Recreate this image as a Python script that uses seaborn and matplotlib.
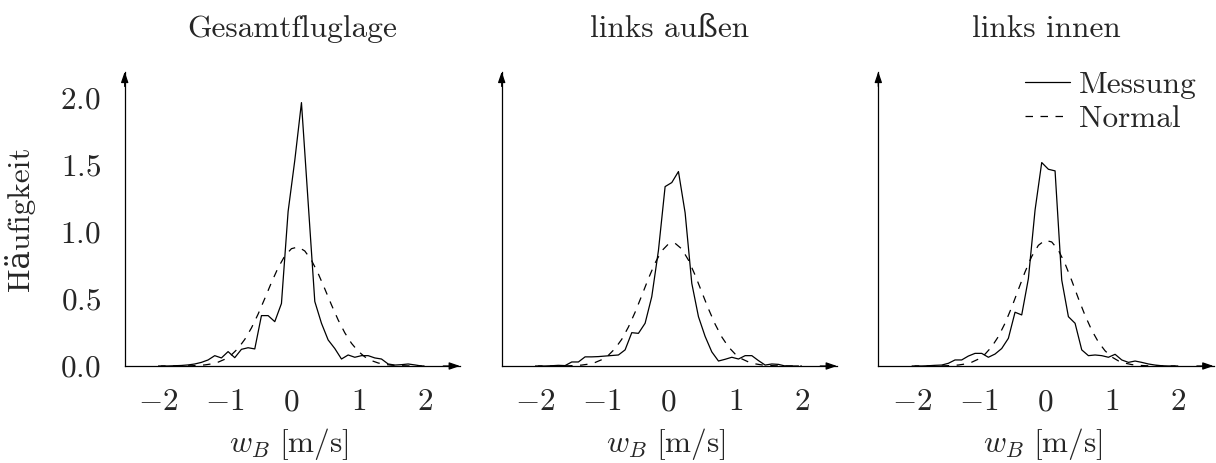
import numpy as np
import pandas as pd
import matplotlib
matplotlib.use("Agg")
import matplotlib.pyplot as plt
from matplotlib.ticker import FixedLocator, FuncFormatter
import seaborn as sns

# ---------------------------------------------------------------- data
titles = ["Gesamtfluglage", "links außen", "links innen"]

bin_centers = [-1.95, -1.85, -1.75, -1.65, -1.55, -1.45, -1.35, -1.25, -1.15, -1.05,
               -0.95, -0.85, -0.75, -0.65, -0.55, -0.45, -0.35, -0.25, -0.15, -0.05,
               0.05, 0.15, 0.25, 0.35, 0.45, 0.55, 0.65, 0.75, 0.85, 0.95,
               1.05, 1.15, 1.25, 1.35, 1.45, 1.55, 1.65, 1.75, 1.85, 1.95]

messung_gesamt = [0.0, 0.0, 0.002, 0.004, 0.008, 0.015, 0.027, 0.045, 0.077, 0.060,
                  0.107, 0.062, 0.124, 0.136, 0.127, 0.375, 0.375, 0.330, 0.465, 1.150,
                  1.530, 1.960, 1.220, 0.480, 0.318, 0.194, 0.130, 0.052, 0.082, 0.065,
                  0.077, 0.077, 0.060, 0.052, 0.015, 0.007, 0.010, 0.015, 0.008, 0.0]

messung_aussen = [0.0, 0.0, 0.002, 0.005, 0.003, 0.030, 0.030, 0.068, 0.068, 0.070,
                  0.074, 0.078, 0.082, 0.120, 0.248, 0.243, 0.318, 0.516, 0.860, 1.335,
                  1.365, 1.447, 1.140, 0.615, 0.367, 0.220, 0.105, 0.037, 0.050, 0.065,
                  0.052, 0.077, 0.077, 0.040, 0.007, 0.015, 0.012, 0.0, 0.0, 0.0]

messung_innen = [0.0, 0.0, 0.002, 0.005, 0.007, 0.020, 0.045, 0.045, 0.074, 0.094,
                 0.094, 0.065, 0.089, 0.130, 0.206, 0.400, 0.380, 0.650, 1.160, 1.514,
                 1.464, 1.452, 0.640, 0.367, 0.318, 0.120, 0.077, 0.082, 0.077, 0.065,
                 0.087, 0.045, 0.027, 0.037, 0.027, 0.015, 0.007, 0.002, 0.0, 0.0]

normal_x = [-2.0, -1.9, -1.8, -1.7, -1.6, -1.5, -1.4, -1.3, -1.2, -1.1,
            -1.0, -0.9, -0.8, -0.7, -0.6, -0.5, -0.4, -0.3, -0.2, -0.1,
            0.0, 0.1, 0.2, 0.3, 0.4, 0.5, 0.6, 0.7, 0.8, 0.9,
            1.0, 1.1, 1.2, 1.3, 1.4, 1.5, 1.6, 1.7, 1.8, 1.9, 2.0]

normal_gesamt = [0.0, 0.0001, 0.0001, 0.0004, 0.0008, 0.0019, 0.004, 0.008, 0.0155, 0.0285,
                 0.050, 0.083, 0.131, 0.198, 0.283, 0.386, 0.502, 0.621, 0.731, 0.819,
                 0.873, 0.886, 0.856, 0.787, 0.689, 0.574, 0.455, 0.343, 0.247, 0.169,
                 0.110, 0.068, 0.040, 0.0225, 0.012, 0.006, 0.003, 0.0014, 0.0006, 0.0003, 0.0001]

normal_aussen = [0.0, 0.0, 0.0001, 0.0003, 0.0006, 0.0015, 0.0033, 0.0069, 0.0139, 0.026,
                 0.047, 0.080, 0.130, 0.199, 0.290, 0.400, 0.524, 0.651, 0.767, 0.857,
                 0.908, 0.913, 0.871, 0.788, 0.676, 0.550, 0.425, 0.311, 0.216, 0.142,
                 0.089, 0.053, 0.030, 0.016, 0.008, 0.004, 0.0017, 0.0007, 0.0003, 0.0001, 0.0]

normal_innen = [0.0, 0.0, 0.0001, 0.0002, 0.0006, 0.0015, 0.0034, 0.0073, 0.0147, 0.028,
                0.051, 0.088, 0.143, 0.219, 0.318, 0.437, 0.569, 0.700, 0.815, 0.898,
                0.936, 0.923, 0.862, 0.761, 0.636, 0.502, 0.376, 0.266, 0.178, 0.113,
                0.067, 0.038, 0.021, 0.0104, 0.005, 0.0023, 0.001, 0.0004, 0.0002, 0.0001, 0.0]

x_ticks = [-2, -1, 0, 1, 2]
y_ticks = [0.0, 0.5, 1.0, 1.5, 2.0]

legend_labels = ["Messung", "Normal"]
y_label = "Häufigkeit"
x_label = r"$w_B\ [\mathrm{m/s}]$"

# ---------------------------------------------------------------- style
sns.set_style("white")
plt.rcParams["font.family"] = ["cmr10", "DejaVu Serif"]
plt.rcParams["mathtext.fontset"] = "cm"
plt.rcParams["axes.unicode_minus"] = False
plt.rcParams["axes.formatter.use_mathtext"] = True

FS = 22.5
LW = 0.9
DASH = (0, (6, 6))
TICK_GREY = "#8a8a8a"

fig = plt.figure(figsize=(12.16, 4.63), dpi=100)
lefts = [0.10255, 0.41258, 0.72229]
width, bottom, height = 0.27574, 0.2095, 0.63564

measurements = [messung_gesamt, messung_aussen, messung_innen]
normals = [normal_gesamt, normal_aussen, normal_innen]

for i, (title, mess, norm) in enumerate(zip(titles, measurements, normals)):
    ax = fig.add_axes([lefts[i], bottom, width, height])
    df_m = pd.DataFrame({"w": bin_centers, "h": mess})
    df_n = pd.DataFrame({"w": normal_x, "h": norm})
    sns.lineplot(data=df_m, x="w", y="h", ax=ax, color="black", lw=LW,
                 label=legend_labels[0], legend=False)
    sns.lineplot(data=df_n, x="w", y="h", ax=ax, color="black", lw=LW,
                 linestyle=DASH, label=legend_labels[1], legend=False)

    ax.set_xlim(-2.5, 2.527)
    ax.set_ylim(0, 2.19)
    ax.set_facecolor("none")

    for side in ("top", "right"):
        ax.spines[side].set_visible(False)
    for side in ("left", "bottom"):
        ax.spines[side].set_color("black")
        ax.spines[side].set_linewidth(LW)

    # arrow heads at the axis ends
    arrow = dict(arrowstyle="-|>,head_length=0.32,head_width=0.11", color="black",
                 lw=LW, mutation_scale=20, shrinkA=0, shrinkB=0)
    ax.annotate("", xy=(1.0, 0.0), xytext=(0.95, 0.0), xycoords="axes fraction",
                textcoords="axes fraction", arrowprops=arrow, annotation_clip=False)
    ax.annotate("", xy=(0.0, 1.0), xytext=(0.0, 0.95), xycoords="axes fraction",
                textcoords="axes fraction", arrowprops=arrow, annotation_clip=False)

    ax.xaxis.set_major_locator(FixedLocator(x_ticks))
    ax.yaxis.set_major_locator(FixedLocator(y_ticks))
    ax.xaxis.set_major_formatter(FuncFormatter(lambda v, p: f"${v:g}$"))
    ax.yaxis.set_major_formatter(FuncFormatter(lambda v, p: f"${v:.1f}$"))
    ax.tick_params(axis="both", direction="out", length=8.2, width=0.9,
                   color=TICK_GREY, labelsize=FS, pad=8)
    ax.tick_params(axis="y", pad=9)
    if i > 0:
        ax.tick_params(axis="y", labelleft=False)

    ax.set_title(title, fontsize=FS, pad=25)
    ax.set_xlabel(x_label, fontsize=FS)
    ax.xaxis.set_label_coords(0.49, -0.205)
    if i == 0:
        ax.set_ylabel(y_label, fontsize=FS)
        ax.yaxis.set_label_coords(-0.268, 0.5)
    else:
        ax.set_ylabel("")

    if i == 2:
        ax.legend(loc="upper right", bbox_to_anchor=(0.949, 1.003), frameon=False,
                  fontsize=FS, handlelength=1.44, handletextpad=0.29,
                  labelspacing=0.2, borderpad=0.0, borderaxespad=0.0)

fig.savefig("out.png", dpi=100)
